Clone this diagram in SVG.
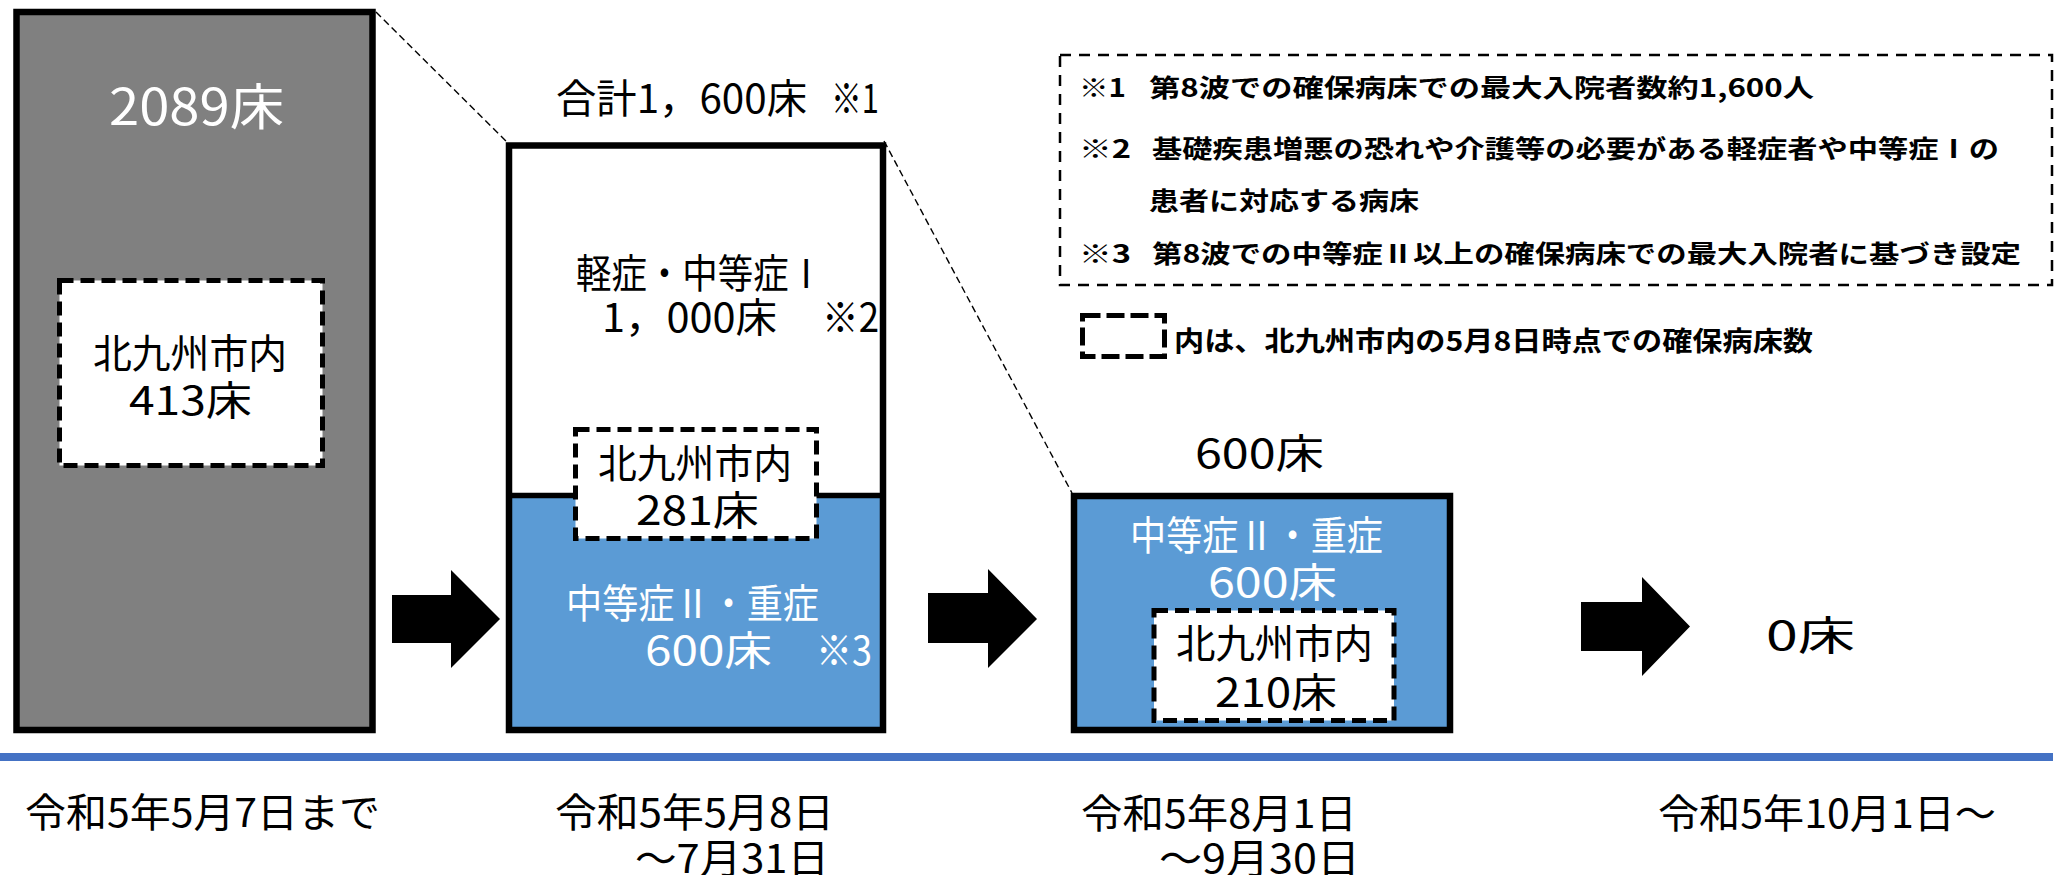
<svg xmlns="http://www.w3.org/2000/svg" width="2063" height="875" viewBox="0 0 2063 875">
<style>
text{font-family:"Noto Sans CJK JP","Noto Sans CJK SC",sans-serif;}
.t40{font-size:40px;fill:#000;}
.w{fill:#fff;}
.box{stroke:#000;stroke-width:6.5;}
.city{fill:#fff;stroke:#000;stroke-width:5;stroke-dasharray:14 7;}
.conn{fill:none;stroke:#000;stroke-width:1.4;stroke-dasharray:7 4;}
.arrow{fill:#000;}
.note{font-size:25px;font-weight:bold;fill:#000;}
</style>
<rect width="2063" height="875" fill="#fff"/>

<g id="connectors">
<line class="conn" x1="376" y1="12" x2="508" y2="143"/>
<line class="conn" x1="884" y1="141" x2="1072" y2="493"/>
<polygon class="arrow" points="392,595 451,595 451,570 500,619 451,668 451,643 392,643"/>
<polygon class="arrow" points="928,593 988,593 988,569 1037,619 988,668 988,643 928,643"/>
<polygon class="arrow" points="1581,602 1642,602 1642,577 1690,626.5 1642,676 1642,651 1581,651"/>
</g>

<g id="timeline">
<line x1="0" y1="757" x2="2053" y2="757" stroke="#4472C4" stroke-width="8"/>
</g>

<g id="node-before">
<rect class="box" x="16.5" y="12" width="356" height="718" fill="#808080"/>
<text class="w" x="109" y="125" font-size="50" textLength="175" lengthAdjust="spacingAndGlyphs">2089床</text>
<rect class="city" x="59.5" y="280.5" width="263" height="185"/>
<text class="t40" x="93" y="368" textLength="194" lengthAdjust="spacingAndGlyphs">北九州市内</text>
<text class="t40" x="129" y="415" textLength="123" lengthAdjust="spacingAndGlyphs">413床</text>
</g>

<g id="node-may">
<text class="t40" x="556" y="113" textLength="251" lengthAdjust="spacingAndGlyphs">合計1，600床</text>
<text class="t40" x="831" y="113" font-size="36" textLength="48" lengthAdjust="spacingAndGlyphs">※1</text>
<rect x="509" y="495.5" width="374" height="234.5" fill="#5B9BD5"/>
<rect class="box" x="509" y="145.5" width="374" height="584.5" fill="none" stroke-width="6"/>
<line x1="509" y1="495.5" x2="577" y2="495.5" stroke="#000" stroke-width="5.5"/>
<line x1="815" y1="495.5" x2="883" y2="495.5" stroke="#000" stroke-width="5.5"/>
<text class="t40" x="576" y="288" font-size="38" textLength="248" lengthAdjust="spacingAndGlyphs">軽症・中等症Ⅰ</text>
<text class="t40" x="602" y="332" textLength="175" lengthAdjust="spacingAndGlyphs">1，000床</text>
<text class="t40" x="822" y="332" font-size="36" textLength="57" lengthAdjust="spacingAndGlyphs">※2</text>
<rect class="city" x="575.5" y="429.5" width="241" height="109"/>
<text class="t40" x="598" y="478" textLength="194" lengthAdjust="spacingAndGlyphs">北九州市内</text>
<text class="t40" x="636" y="525" textLength="123" lengthAdjust="spacingAndGlyphs">281床</text>
<text class="t40 w" x="566" y="618" textLength="253" lengthAdjust="spacingAndGlyphs">中等症Ⅱ・重症</text>
<text class="t40 w" x="645" y="665" font-size="42" textLength="127" lengthAdjust="spacingAndGlyphs">600床</text>
<text class="t40 w" x="816" y="665" font-size="36" textLength="56" lengthAdjust="spacingAndGlyphs">※3</text>
</g>

<g id="node-aug">
<text class="t40" x="1195" y="468" font-size="44" textLength="129" lengthAdjust="spacingAndGlyphs">600床</text>
<rect class="box" x="1074" y="496" width="376" height="234" fill="#5B9BD5"/>
<text class="t40 w" x="1130" y="550" textLength="253" lengthAdjust="spacingAndGlyphs">中等症Ⅱ・重症</text>
<text class="t40 w" x="1208" y="597" font-size="44" textLength="129" lengthAdjust="spacingAndGlyphs">600床</text>
<rect class="city" x="1154" y="610.5" width="240" height="110"/>
<text class="t40" x="1176" y="658" textLength="197" lengthAdjust="spacingAndGlyphs">北九州市内</text>
<text class="t40" x="1215" y="707" textLength="122" lengthAdjust="spacingAndGlyphs">210床</text>
</g>

<g id="node-oct">
<text class="t40" x="1766" y="650" font-size="56" textLength="89" lengthAdjust="spacingAndGlyphs">0床</text>
</g>

<g id="dates">
<text class="t40" x="25" y="827" textLength="355" lengthAdjust="spacingAndGlyphs">令和5年5月7日まで</text>
<text class="t40" x="555" y="827" textLength="279" lengthAdjust="spacingAndGlyphs">令和5年5月8日</text>
<text class="t40" x="635" y="873" textLength="194" lengthAdjust="spacingAndGlyphs">～7月31日</text>
<text class="t40" x="1081" y="828" textLength="276" lengthAdjust="spacingAndGlyphs">令和5年8月1日</text>
<text class="t40" x="1159" y="873" textLength="201" lengthAdjust="spacingAndGlyphs">～9月30日</text>
<text class="t40" x="1658" y="828" textLength="338" lengthAdjust="spacingAndGlyphs">令和5年10月1日～</text>
</g>

<g id="notes">
<rect x="1060" y="55" width="992" height="230" fill="none" stroke="#000" stroke-width="2.5" stroke-dasharray="11 8"/>
<text class="note" x="1079" y="97" textLength="47" lengthAdjust="spacingAndGlyphs">※1</text>
<text class="note" x="1149" y="97" textLength="665" lengthAdjust="spacingAndGlyphs">第8波での確保病床での最大入院者数約1,600人</text>
<text class="note" x="1079" y="158" textLength="52" lengthAdjust="spacingAndGlyphs">※2</text>
<text class="note" x="1152" y="158" textLength="847" lengthAdjust="spacingAndGlyphs">基礎疾患増悪の恐れや介護等の必要がある軽症者や中等症Ⅰの</text>
<text class="note" x="1149" y="210" textLength="270" lengthAdjust="spacingAndGlyphs">患者に対応する病床</text>
<text class="note" x="1079" y="263" textLength="52" lengthAdjust="spacingAndGlyphs">※3</text>
<text class="note" x="1152" y="263" textLength="869" lengthAdjust="spacingAndGlyphs">第8波での中等症Ⅱ以上の確保病床での最大入院者に基づき設定</text>
</g>

<g id="legend">
<rect x="1082.5" y="315.5" width="82" height="41" fill="none" stroke="#000" stroke-width="5" stroke-dasharray="18 6"/>
<text x="1174" y="351" font-size="27" font-weight="bold" textLength="639" lengthAdjust="spacingAndGlyphs">内は、北九州市内の5月8日時点での確保病床数</text>
</g>
</svg>
